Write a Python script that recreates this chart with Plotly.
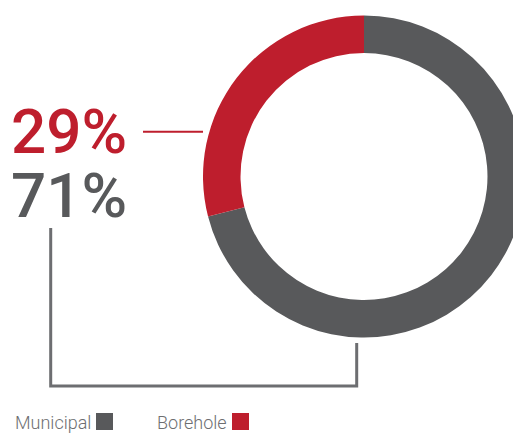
import plotly.graph_objects as go

# Data
categories = ["Municipal", "Borehole"]
shares = [71, 29]
colors = ["#58595b", "#be1e2d"]

W, H = 530, 434
def px(x):
    return x / W
def py(y):
    return 1 - y / H

cx, cy, r = 364, 176.5, 161
fig = go.Figure(go.Pie(
    labels=categories, values=shares, sort=False, direction="clockwise",
    rotation=0, hole=0.767, textinfo="none", hoverinfo="label+percent",
    marker=dict(colors=colors, line=dict(width=0)),
    domain=dict(x=[px(cx - r), px(cx + r)], y=[py(cy + r), py(cy - r)]),
    showlegend=False,
))

big_font = "Roboto, Liberation Sans, sans-serif"
fig.add_annotation(text=f"{shares[1]}%", x=px(9), y=py(131), xref="paper", yref="paper",
                   xanchor="left", yanchor="middle", showarrow=False,
                   font=dict(family=big_font, size=62, color=colors[1], weight=500))
fig.add_annotation(text=f"{shares[0]}%", x=px(9), y=py(195), xref="paper", yref="paper",
                   xanchor="left", yanchor="middle", showarrow=False,
                   font=dict(family=big_font, size=62, color=colors[0], weight=500))

# connector lines
fig.add_shape(type="line", xref="paper", yref="paper", x0=px(143), x1=px(203), y0=py(131.7), y1=py(131.7),
              line=dict(color=colors[1], width=2))
fig.add_shape(type="path", xref="paper", yref="paper",
              path=f"M {px(50.7)} {py(228)} L {px(50.7)} {py(386)} L {px(356.7)} {py(386)} L {px(356.7)} {py(343)}",
              line=dict(color="#6d6e71", width=3))

# legend
leg_font = "Roboto, Liberation Sans, sans-serif"
legend_items = [(categories[0], colors[0], 96), (categories[1], colors[1], 232)]
for name, col, sx in legend_items:
    fig.add_annotation(text=name, x=px(sx - 3), y=py(422), xref="paper", yref="paper",
                       xanchor="right", yanchor="middle", showarrow=False,
                       font=dict(family=leg_font, size=18, color="#6d6e71", weight=300))
    fig.add_shape(type="rect", xref="paper", yref="paper", x0=px(sx), x1=px(sx + 17),
                  y0=py(430), y1=py(413), fillcolor=col, line=dict(width=0))

fig.update_layout(width=W, height=H, margin=dict(l=0, r=0, t=0, b=0),
                  paper_bgcolor="white", plot_bgcolor="white")

fig.write_html("out.html", post_script="document.documentElement.style.overflow='hidden';document.body.style.overflow='hidden';")
